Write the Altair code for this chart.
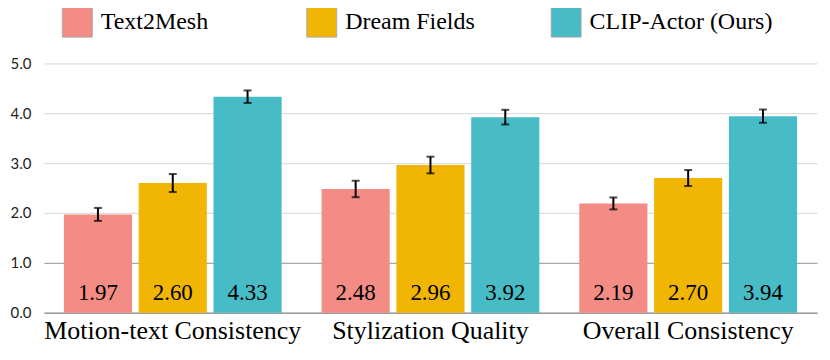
import altair as alt
import pandas as pd

categories = ["Motion-text Consistency", "Stylization Quality", "Overall Consistency"]
series = ["Text2Mesh", "Dream Fields", "CLIP-Actor (Ours)"]
colors = ["#F28C85", "#F1B604", "#47BBC6"]

text2mesh = [1.97, 2.48, 2.19]
dream_fields = [2.60, 2.96, 2.70]
clip_actor = [4.33, 3.92, 3.94]

text2mesh_err = [0.13, 0.165, 0.12]
dream_fields_err = [0.18, 0.167, 0.16]
clip_actor_err = [0.125, 0.147, 0.133]

rows = []
for s, vals, errs in [
    (series[0], text2mesh, text2mesh_err),
    (series[1], dream_fields, dream_fields_err),
    (series[2], clip_actor, clip_actor_err),
]:
    for c, v, e in zip(categories, vals, errs):
        rows.append({"category": c, "series": s, "value": v, "err": e})
df = pd.DataFrame(rows)

SERIF = "Liberation Serif, Times New Roman, serif"
SANS = "Lato, Open Sans, sans-serif"

x_enc = alt.X(
    "category:N",
    sort=categories,
    title=None,
    scale=alt.Scale(paddingInner=0.155, paddingOuter=0.0775),
    axis=alt.Axis(
        labelFont=SERIF,
        labelFontSize=26,
        labelColor="black",
        labelAngle=0,
        labelPadding=5,
        labelLimit=0,
        ticks=False,
        domain=True,
        domainColor="#9a9a9a",
        domainWidth=1.5,
        grid=False,
    ),
)
xoff = alt.XOffset("series:N", sort=series, scale=alt.Scale(paddingInner=0.089, paddingOuter=0))
y_scale = alt.Scale(domain=[0, 5], nice=False)

base = alt.Chart(df).transform_calculate(
    lo="datum.value - datum.err", hi="datum.value + datum.err"
)

bars = base.mark_bar().encode(
    x=x_enc,
    xOffset=xoff,
    y=alt.Y(
        "value:Q",
        scale=y_scale,
        stack=None,
        title=None,
        axis=alt.Axis(
            values=[0, 1, 2, 3, 4, 5],
            format=".1f",
            labelFont=SANS,
            labelFontSize=15,
            labelColor="#222",
            labelPadding=13,
            ticks=False,
            domain=False,
            grid=True,
            gridColor={"condition": {"test": "datum.value === 1", "value": "#a8a8a8"}, "value": "#dedede"},
            gridWidth=1.3,
        ),
    ),
    color=alt.Color(
        "series:N",
        sort=series,
        scale=alt.Scale(domain=series, range=colors),
        legend=alt.Legend(
            title=None,
            orient="none",
            legendX=18,
            legendY=-57,
            direction="horizontal",
            columns=3,
            gridAlign="all",
            symbolType="square",
            symbolSize=900,
            symbolStrokeColor="#aaaaaa",
            symbolStrokeWidth=1,
            symbolOpacity=1,
            labelFont=SERIF,
            labelFontSize=24,
            labelColor="black",
            labelOffset=8,
            labelLimit=0,
            columnPadding=20,
            padding=0,
        ),
    ),
)

rules = base.mark_rule(color="black", strokeWidth=2).encode(
    x=x_enc,
    xOffset=xoff,
    y=alt.Y("lo:Q", scale=y_scale),
    y2="hi:Q",
)

caps_lo = base.mark_tick(color="black", thickness=2, size=8).encode(
    x=x_enc, xOffset=xoff, y=alt.Y("lo:Q", scale=y_scale)
)
caps_hi = base.mark_tick(color="black", thickness=2, size=8).encode(
    x=x_enc, xOffset=xoff, y=alt.Y("hi:Q", scale=y_scale)
)

labels = base.mark_text(
    font=SERIF, fontSize=23, color="black", baseline="alphabetic", dy=-13
).encode(
    x=x_enc,
    xOffset=xoff,
    y=alt.Y("zero:Q", scale=y_scale),
    text=alt.Text("value:Q", format=".2f"),
).transform_calculate(zero="0")

chart = (
    alt.layer(bars, rules, caps_lo, caps_hi, labels)
    .properties(
        width=775,
        height=250,
        autosize=alt.AutoSizeParams(type="none"),
        padding={"left": 36, "top": 55, "right": 5, "bottom": 40},
    )
    .configure_view(stroke=None)
)

chart.save("out.html", embed_options={"renderer": "svg", "actions": False})
